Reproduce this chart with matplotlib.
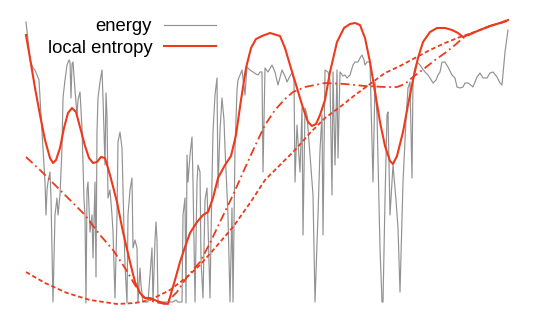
import matplotlib
matplotlib.use("Agg")
import matplotlib.pyplot as plt
import numpy as np

# energy series (step, value)
energy_x = [0,2,4,7,9,11,13,15,17,19,20,21,22,24,25,27,29,31,32,34,36,37,39,41,43,44,45,46,47,49,
            51,52,54,56,58,59,60,61,62,64,66,67,69,70,71,72,74,76,77,79,80,81,82,84,86,87,89,91,92,94,
            96,98,99,101,102,104,106,107,109,111,112,114,115,117,122,124,126,127,129,130,131,132,147,150,152,156,157,159,160,161,
            162,164,166,167,169,171,172,174,175,177,179,181,183,184,186,187,189,191,192,194,196,198,199,202,204,206,207,209,211,212,
            214,216,219,221,224,227,230,232,234,236,237,239,242,246,249,252,256,259,261,264,266,268,269,271,272,274,276,277,279,281,
            284,287,289,292,294,296,297,299,302,304,306,307,309,311,312,314,317,319,321,324,327,329,332,334,336,338,339,341,344,347,
            349,351,354,356,357,359,361,362,364,367,370,372,374,377,380,382,384,386,387,389,391,394,396,399,402,404,407,410,412,414,
            416,419,422,426,429,431,434,437,439,442,446,447,451,454,457,461,464,467,471,474,476,479,482]
energy_y = [282,264,244,236,234,229,224,189,156,122,89,114,122,132,106,2,89,106,89,109,156,206,224,239,244,242,206,240,242,214,
            189,204,212,176,104,89,1,114,122,72,89,46,122,27,172,206,222,234,206,139,211,189,106,114,89,72,6,89,162,172,
            156,74,39,1,89,114,126,56,64,56,1,36,19,2,2,29,56,2,64,82,64,2,2,4,2,2,89,106,1,149,
            122,149,167,122,2,122,139,132,44,6,104,116,44,6,124,172,209,226,116,174,206,184,156,89,2,96,2,156,214,224,
            229,234,209,237,234,232,230,229,232,232,132,236,232,239,232,219,234,228,222,228,231,224,122,179,162,132,196,69,196,189,
            149,109,2,89,154,189,69,234,232,224,109,232,139,234,146,232,228,229,226,229,239,242,242,246,249,244,239,242,242,122,
            222,189,56,2,2,104,189,192,89,139,104,76,12,122,184,216,222,126,226,236,242,239,236,232,229,226,221,224,229,232,
            242,242,237,229,226,217,216,217,221,221,218,217,227,231,226,226,231,232,227,221,219,252,274]

# local entropy (smooth curve)
entropy_x = [0,4,9,14,19,24,27,30,34,38,42,46,50,54,59,63,67,71,75,79,84,91,97,104,109,114,119,124,131,137,
             142,149,154,159,164,171,177,182,187,192,199,205,210,215,220,225,230,236,244,254,259,264,271,277,282,286,290,294,299,304,
             311,318,324,329,334,339,344,349,354,359,364,367,371,377,382,387,392,397,404,411,419,426,432,437,444,454,464,474,482]
entropy_y = [269,246,216,189,164,146,141,144,156,176,191,196,192,177,158,146,141,142,147,146,129,102,72,42,22,11,6,6,3,1,
             0,24,42,57,71,82,89,92,106,126,139,148,169,204,236,256,265,268,271,268,256,239,216,196,182,178,180,189,204,232,
             262,276,280,281,279,266,242,212,182,158,143,140,148,172,199,224,246,262,272,276,276,274,271,267,270,274,278,281,284]

# trend 1 (dashed)
trend1_x = [0,19,41,64,91,109,124,144,161,174,189,207,224,239,254,269,284,299,314,329,344,359,374,389,404,419,434,449,464,481]
trend1_y = [32,21,11,4,0,1,4,14,27,39,56,77,101,124,139,154,171,186,197,209,220,231,238,246,254,261,267,272,278,283]

# trend 2 (dash-dot)
trend2_x = [0,14,29,44,59,74,87,99,109,117,129,139,151,161,174,184,194,207,219,229,239,249,259,267,279,299,319,339,359,371,
            379,387,399,409,419,429,437,449,464,481]
trend2_y = [147,134,119,104,89,69,54,36,19,7,2,0,12,27,42,61,82,109,136,158,179,194,205,212,217,221,220,218,217,217,
            220,227,236,244,251,259,266,272,278,283]

red = "#ee3a1c"
gray = "#929292"

fig = plt.figure(figsize=(5.39, 3.25), dpi=100)
ax = fig.add_axes([26/539, 21/325, 482/539, 284/325])
ax.set_xlim(0, 482)
ax.set_ylim(0, 284)
ax.axis("off")

l1, = ax.plot(energy_x, energy_y, color=gray, lw=0.85, clip_on=False, label="energy")
l2, = ax.plot(entropy_x, entropy_y, color=red, lw=1.5, clip_on=False, label="local entropy")
ax.plot(trend1_x, trend1_y, color=red, lw=1.3, ls=(0, (2.5, 1.5)), clip_on=False)
ax.plot(trend2_x, trend2_y, color=red, lw=1.3, ls=(0, (5, 2, 1, 2)), clip_on=False)

leg = fig.legend(handles=[l1, l2], loc="upper left", bbox_to_anchor=(47.5/539, 1 - 18/325),
                 frameon=False, markerfirst=False, handlelength=2.8, handletextpad=0.65,
                 labelspacing=0.25, borderaxespad=0, borderpad=0,
                 prop={"family": "Liberation Sans", "size": 13.3})

fig.savefig("out.png", dpi=100)
